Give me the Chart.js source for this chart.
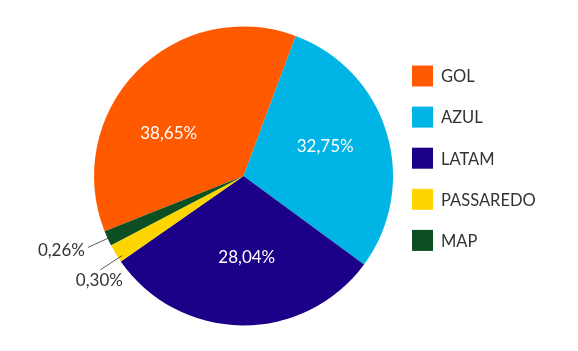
<!DOCTYPE html>
<html>
<head>
<meta charset="utf-8">
<script src="https://cdn.jsdelivr.net/npm/chart.js@4/dist/chart.umd.min.js"></script>
<style>
  html, body { margin: 0; padding: 0; background: #fff; }
  #wrap { width: 578px; height: 351px; }
</style>
</head>
<body>
<div id="wrap"><canvas id="share-chart" width="578" height="351"></canvas></div>
<script>
const airlines = ['GOL', 'AZUL', 'LATAM', 'PASSAREDO', 'MAP'];
// slice sizes as they are drawn in the picture (in %)
const sliceShares = [36.7, 29.4, 30.25, 2.0, 1.65];
// percentages printed on the chart
const shareLabels = ['38,65%', '32,75%', '28,04%', '0,30%', '0,26%'];
const sliceColors = ['#ff5a00', '#00b4e6', '#1c0087', '#ffd500', '#0b4f22'];

const textColor = '#333333';
const fontFamily = 'Lato, "Open Sans", sans-serif';

const sliceLabels = {
  id: 'sliceLabels',
  afterDatasetsDraw(chart, args, opts) {
    const ctx = chart.ctx;
    const arcs = chart.getDatasetMeta(0).data;
    ctx.save();
    ctx.font = `17px ${fontFamily}`;
    ctx.textBaseline = 'middle';
    arcs.forEach((arc, i) => {
      const p = arc.getProps(['x', 'y', 'startAngle', 'endAngle', 'outerRadius'], true);
      const place = opts.placement[i];
      const mid = (p.startAngle + p.endAngle) / 2 + (opts.nudge[i] || 0) * Math.PI / 180;
      const cos = Math.cos(mid), sin = Math.sin(mid);
      if (place === 'inside') {
        const r = p.outerRadius * opts.insideRadius[i];
        ctx.fillStyle = '#ffffff';
        ctx.textAlign = 'center';
        ctx.fillText(shareLabels[i], p.x + cos * r, p.y + sin * r);
        return;
      }
      const r0 = p.outerRadius * 0.97;
      const r1 = p.outerRadius * 1.145;
      const x1 = p.x + cos * r1, y1 = p.y + sin * r1;
      ctx.strokeStyle = textColor;
      ctx.lineWidth = 0.8;
      ctx.beginPath();
      ctx.moveTo(p.x + cos * r0, p.y + sin * r0);
      ctx.lineTo(x1, y1);
      ctx.stroke();
      ctx.fillStyle = textColor;
      if (place === 'left') {
        ctx.textAlign = 'right';
        ctx.fillText(shareLabels[i], x1 - 3, y1 + 3);
      } else {
        ctx.textAlign = 'center';
        ctx.fillText(shareLabels[i], x1 - 1, y1 + 11);
      }
    });
    ctx.restore();
  }
};

const sideLegend = {
  id: 'sideLegend',
  afterDraw(chart, args, opts) {
    const ctx = chart.ctx;
    const colors = chart.data.datasets[0].backgroundColor;
    ctx.save();
    ctx.font = `16.5px ${fontFamily}`;
    ctx.textAlign = 'left';
    ctx.textBaseline = 'middle';
    chart.data.labels.forEach((label, i) => {
      const top = opts.top + i * opts.step;
      ctx.fillStyle = colors[i];
      ctx.fillRect(opts.left, top, opts.box, opts.box);
      ctx.fillStyle = textColor;
      ctx.fillText(label, opts.left + opts.box + 8, top + opts.box / 2 + 1);
    });
    ctx.restore();
  }
};

new Chart(document.getElementById('share-chart'), {
  type: 'pie',
  data: {
    labels: airlines,
    datasets: [{
      data: sliceShares,
      backgroundColor: sliceColors,
      borderWidth: 0,
    }],
  },
  options: {
    responsive: false,
    animation: false,
    rotation: -111.7,
    layout: { padding: { left: 94, right: 185, top: 26.5, bottom: 25.5 } },
    plugins: {
      legend: { display: false },
      tooltip: { enabled: false },
      sliceLabels: {
        placement: ['inside', 'inside', 'inside', 'below', 'left'],
        nudge: [-15, -3, -3, -2, 0],
        insideRadius: [0.574, 0.58, 0.547],
      },
      sideLegend: { left: 412, top: 65.5, step: 41.1, box: 21 },
    },
  },
  plugins: [sliceLabels, sideLegend],
});
</script>
</body>
</html>
